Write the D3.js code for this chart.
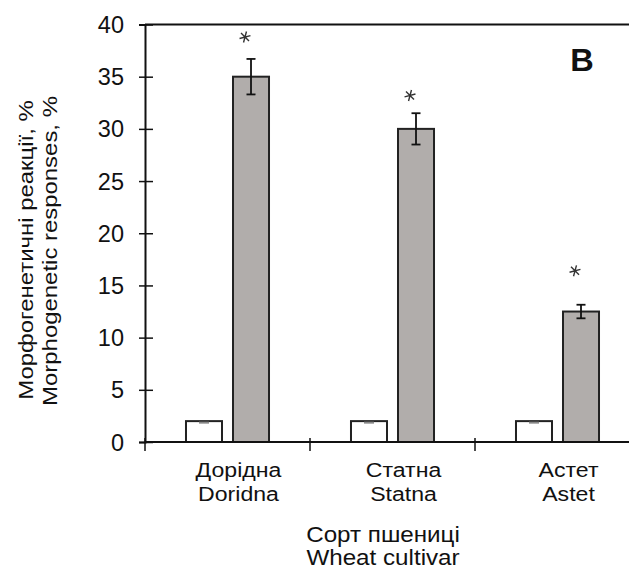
<!DOCTYPE html>
<html><head><meta charset="utf-8">
<script src="https://cdn.jsdelivr.net/npm/d3@7"></script>
<style>body{margin:0;background:#fff}svg{display:block}text{font-family:"Liberation Sans",Arial,sans-serif}</style>
</head><body><svg id="c" width="629" height="571"></svg>
<script>
const categoriesUk = ["Дорідна", "Статна", "Астет"];
const categoriesEn = ["Doridna", "Statna", "Astet"];
const controlValues = [2, 2, 2];
const controlErrors = [0.05, 0.05, 0.05];
const treatedValues = [35, 30, 12.5];
const treatedErrors = [1.7, 1.5, 0.65];
const starValues = [38.8, 33.2, 16.4];
const yTicks = [0, 5, 10, 15, 20, 25, 30, 35, 40];
const yTitle = ["Морфогенетичні реакції, %", "Morphogenetic responses, %"];
const xTitle = ["Сорт пшениці", "Wheat cultivar"];
const panelLabel = "B";

const svg = d3.select("#c");
const x0 = 145, yBottom = 442, yTop = 24.5;
const x = d3.scaleBand().domain(categoriesUk).range([x0, x0 + 165 * 3]).padding(0);
const sub = d3.scaleBand().domain(["control", "treated"]).range([0, 165]).paddingInner(0.234).paddingOuter(0.872);
const y = d3.scaleLinear().domain([0, 40]).range([yBottom, yTop]);

// text helper: stretched horizontally around its anchor point
function label(parent, tx, ty, str, opts = {}) {
  const g = parent.append("g").attr("transform", `translate(${tx},${ty})` + (opts.rotate ? ` rotate(${opts.rotate})` : ""));
  return g.append("text").attr("transform", `scale(${opts.stretch || 1},1)`)
    .attr("text-anchor", opts.anchor || "middle").attr("font-size", opts.size || 20)
    .attr("font-weight", opts.weight || "normal").attr("fill", "#111").text(str);
}

// top frame line
svg.append("line").attr("x1", x0).attr("x2", 629).attr("y1", y(40)).attr("y2", y(40))
  .attr("stroke", "#111").attr("stroke-width", 2);

// y axis
const yAxis = d3.axisLeft(y).tickValues(yTicks).tickSize(6).tickFormat(() => "");
const gy = svg.append("g").attr("transform", `translate(${x0},0)`).call(yAxis);
gy.select(".domain").attr("stroke", "#111").attr("stroke-width", 2);
gy.selectAll(".tick line").attr("stroke", "#111").attr("stroke-width", 1.5).attr("x2", 8).attr("x1", -6);
yTicks.forEach(t => label(svg, 124, y(t) + 8.5, String(t), {anchor: "end", size: 23.5}));

// bars
const data = categoriesUk.map((c, i) => ({c, i}));
const gb = svg.append("g");
gb.selectAll("rect.ctrl").data(data).join("rect").attr("class", "ctrl")
  .attr("x", d => x(d.c) + sub("control")).attr("width", sub.bandwidth())
  .attr("y", d => y(controlValues[d.i])).attr("height", d => y(0) - y(controlValues[d.i]))
  .attr("fill", "#fff").attr("stroke", "#222").attr("stroke-width", 2);
gb.selectAll("rect.trt").data(data).join("rect").attr("class", "trt")
  .attr("x", d => x(d.c) + sub("treated")).attr("width", sub.bandwidth())
  .attr("y", d => y(treatedValues[d.i])).attr("height", d => y(0) - y(treatedValues[d.i]))
  .attr("fill", "#b1adab").attr("stroke", "#222").attr("stroke-width", 2);

// control error (tiny)
gb.selectAll("line.cerr").data(data).join("line").attr("class", "cerr")
  .attr("x1", d => x(d.c) + sub("control") + sub.bandwidth() / 2 - 5)
  .attr("x2", d => x(d.c) + sub("control") + sub.bandwidth() / 2 + 5)
  .attr("y1", d => y(controlValues[d.i] - controlErrors[d.i]) + 1)
  .attr("y2", d => y(controlValues[d.i] - controlErrors[d.i]) + 1)
  .attr("stroke", "#888").attr("stroke-width", 2);

// treated error bars
const ge = svg.append("g").attr("stroke", "#111").attr("stroke-width", 1.8);
data.forEach(d => {
  const cx = x(d.c) + sub("treated") + sub.bandwidth() / 2;
  const hi = y(treatedValues[d.i] + treatedErrors[d.i]);
  const lo = y(treatedValues[d.i] - treatedErrors[d.i]);
  ge.append("line").attr("x1", cx).attr("x2", cx).attr("y1", hi).attr("y2", lo);
  ge.append("line").attr("x1", cx - 4.5).attr("x2", cx + 4.5).attr("y1", hi).attr("y2", hi);
  ge.append("line").attr("x1", cx - 4.5).attr("x2", cx + 4.5).attr("y1", lo).attr("y2", lo);
});

// significance stars
svg.append("g").selectAll("path").data(data).join("path")
  .attr("transform", d => `translate(${x(d.c) + sub("treated") + sub.bandwidth() / 2 - 6},${y(starValues[d.i])}) rotate(15)`)
  .attr("d", d3.symbol().type(d3.symbolAsterisk).size(90))
  .attr("stroke", "#333").attr("stroke-width", 1.4).attr("fill", "none");

// x axis
svg.append("line").attr("x1", x0).attr("x2", 629).attr("y1", yBottom).attr("y2", yBottom)
  .attr("stroke", "#111").attr("stroke-width", 2);
const xTickPos = [0, 1, 2, 3].map(k => x0 + x.step() * k);
svg.append("g").selectAll("line").data(xTickPos).join("line")
  .attr("x1", d => d).attr("x2", d => d).attr("y1", yBottom - 4).attr("y2", yBottom + 9)
  .attr("stroke", "#111").attr("stroke-width", 1.5);

data.forEach(d => {
  const cx = x(d.c) + x.bandwidth() / 2 + 11;
  label(svg, cx, 477, categoriesUk[d.i], {size: 21, stretch: 1.1});
  label(svg, cx, 501, categoriesEn[d.i], {size: 21, stretch: 1.1});
});
label(svg, 383, 542, xTitle[0], {size: 22, stretch: 1.1});
label(svg, 383, 565, xTitle[1], {size: 22, stretch: 1.1});

// y title
label(svg, 33, 250, yTitle[0], {rotate: -90, size: 21, stretch: 1.14});
label(svg, 57, 251, yTitle[1], {rotate: -90, size: 21, stretch: 1.14});

// panel label
label(svg, 582, 71, panelLabel, {size: 31, weight: "bold", stretch: 1.05});
</script></body></html>
